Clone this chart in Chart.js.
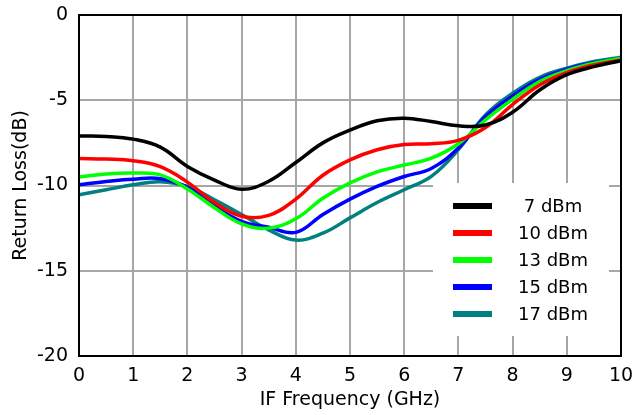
<!DOCTYPE html>
<html>
<head>
<meta charset="utf-8">
<script src="https://cdn.jsdelivr.net/npm/chart.js@4.4.1/dist/chart.umd.min.js"></script>
<style>
  body { margin: 0; background: #fff; }
</style>
</head>
<body>
<canvas id="returnLossChart" width="635" height="415"></canvas>
<script>
// IF frequency in GHz
var freqs = [0, 0.5, 1, 1.5, 2, 2.5, 3, 3.5, 4, 4.5, 5, 5.5, 6, 6.5, 7, 7.5, 8, 8.5, 9, 9.5, 10];

// return loss (dB) for each LO drive level
var rl7  = [-7.1, -7.12, -7.28, -7.75, -8.88, -9.68, -10.22, -9.75, -8.65, -7.5, -6.75, -6.2, -6.05, -6.25, -6.5, -6.45, -5.7, -4.4, -3.5, -3.03, -2.68];
var rl10 = [-8.42, -8.45, -8.55, -8.9, -9.8, -11.0, -11.8, -11.75, -10.8, -9.4, -8.5, -7.9, -7.6, -7.55, -7.35, -6.6, -5.25, -4.1, -3.38, -2.93, -2.64];
var rl13 = [-9.5, -9.33, -9.27, -9.38, -10.2, -11.3, -12.25, -12.5, -11.95, -10.75, -9.85, -9.2, -8.8, -8.4, -7.55, -6.15, -4.95, -3.9, -3.26, -2.83, -2.54];
var rl15 = [-9.96, -9.76, -9.63, -9.6, -10.1, -11.2, -12.1, -12.45, -12.75, -11.7, -10.8, -10.05, -9.47, -9.0, -7.8, -5.96, -4.75, -3.77, -3.18, -2.79, -2.54];
var rl17 = [-10.54, -10.25, -9.96, -9.78, -10.06, -10.84, -11.7, -12.6, -13.2, -12.8, -11.9, -11.0, -10.25, -9.47, -7.9, -5.86, -4.59, -3.65, -3.12, -2.73, -2.48];

var seriesLabels = [' 7 dBm', '10 dBm', '13 dBm', '15 dBm', '17 dBm'];
var seriesColors = ['#000000', '#ff0000', '#00ff00', '#0000ff', '#008080'];
var seriesData = [rl7, rl10, rl13, rl15, rl17];

var FONT = 'DejaVu Sans';

function toPoints(values) {
    return values.map(function (v, i) { return { x: freqs[i], y: v }; });
}

// white legend box drawn inside the plot, over the grid
var boxLegend = {
    id: 'boxLegend',
    beforeDatasetsDraw: function (chart) {
        var ctx = chart.ctx;
        ctx.save();
        ctx.fillStyle = '#ffffff';
        ctx.fillRect(433, 183, 176, 153);
        ctx.restore();
    },
    afterDatasetsDraw: function (chart) {
        var ctx = chart.ctx;
        ctx.save();
        ctx.font = '18px ' + FONT;
        ctx.textBaseline = 'middle';
        ctx.textAlign = 'left';
        chart.data.datasets.forEach(function (ds, i) {
            var y = 206 + i * 27;
            ctx.strokeStyle = ds.borderColor;
            ctx.lineWidth = 6;
            ctx.beginPath();
            ctx.moveTo(453, y);
            ctx.lineTo(492, y);
            ctx.stroke();
            ctx.fillStyle = '#000';
            ctx.fillText(ds.label, 518, y + 1);
        });
        ctx.restore();
    }
};

// full black frame round the plot area
var frame = {
    id: 'frame',
    afterDraw: function (chart) {
        var a = chart.chartArea;
        var ctx = chart.ctx;
        ctx.save();
        ctx.strokeStyle = '#000';
        ctx.lineWidth = 2;
        ctx.strokeRect(a.left, a.top, a.right - a.left, a.bottom - a.top);
        ctx.restore();
    }
};

var ctx = document.getElementById('returnLossChart').getContext('2d');
var chart = new Chart(ctx, {
    type: 'line',
    data: {
        datasets: seriesData.map(function (vals, i) {
            return {
                label: seriesLabels[i],
                data: toPoints(vals),
                borderColor: seriesColors[i],
                borderWidth: 3.5,
                pointRadius: 0,
                tension: 0.4,
                fill: false
            };
        })
    },
    options: {
        responsive: false,
        animation: false,
        devicePixelRatio: 1,
        layout: {
            padding: { top: 15, right: 14, left: 0, bottom: 0 }
        },
        plugins: {
            legend: { display: false },
            tooltip: { enabled: false }
        },
        scales: {
            x: {
                type: 'linear',
                min: 0,
                max: 10,
                ticks: {
                    stepSize: 1,
                    color: '#000',
                    padding: 9,
                    font: { family: FONT, size: 19 }
                },
                grid: { color: '#a6a6a6', lineWidth: 2, drawTicks: false },
                border: { color: '#000', width: 2 },
                title: {
                    display: true,
                    text: 'IF Frequency (GHz)',
                    color: '#000',
                    font: { family: FONT, size: 19 },
                    padding: { top: 0, bottom: 4 }
                },
                afterFit: function (scale) {
                    scale.height = 59;
                    scale.paddingLeft = 0;
                    scale.paddingRight = 0;
                }
            },
            y: {
                min: -20,
                max: 0,
                ticks: {
                    stepSize: 5,
                    color: '#000',
                    padding: 11,
                    font: { family: FONT, size: 19 }
                },
                grid: { color: '#a6a6a6', lineWidth: 2, drawTicks: false },
                border: { color: '#000', width: 2 },
                title: {
                    display: true,
                    text: 'Return Loss(dB)',
                    color: '#000',
                    font: { family: FONT, size: 19 },
                    padding: { top: 10, bottom: 0 }
                },
                afterFit: function (scale) {
                    scale.width = 79;
                    scale.paddingTop = 0;
                    scale.paddingBottom = 0;
                }
            }
        }
    },
    plugins: [boxLegend, frame]
});
</script>
</body>
</html>
